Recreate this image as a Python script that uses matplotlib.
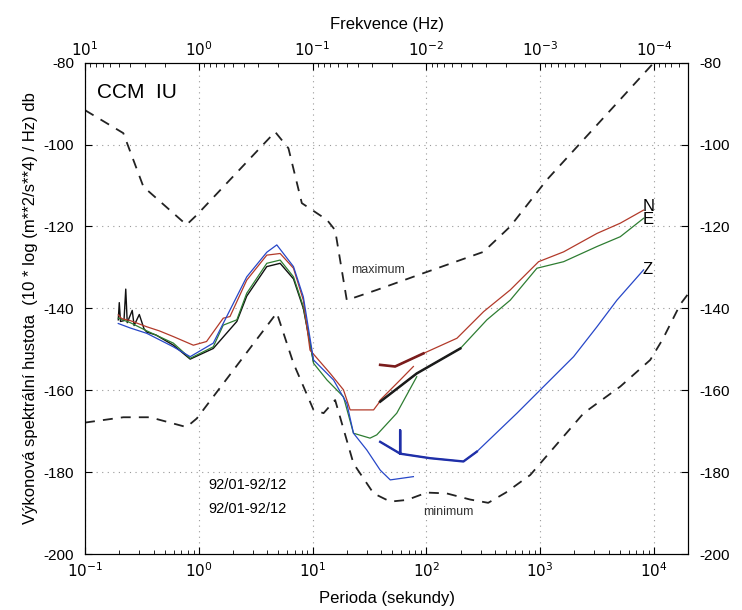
import numpy as np
import matplotlib
matplotlib.use("Agg")
import matplotlib.pyplot as plt
from matplotlib.ticker import LogLocator, FixedLocator, NullFormatter

plt.rcParams['font.family'] = ['Liberation Sans', 'DejaVu Sans']

# ---------------- data (period in s, PSD in dB) ----------------
max_T = [0.1, 0.217, 0.326, 0.78, 0.96, 4.69, 6.14, 8.05, 13.4, 15.8, 20.0, 36.7, 94.4, 318, 547, 1148, 1e4, 2e4]
max_db = [-91.6, -97.2, -110.3, -119.6, -117.2, -96.9, -100.9, -114.3, -118.4, -120.9, -138.0, -135.5, -131.4, -126.2, -120.0, -108.6, -80.0, -76.0]

min_T = [0.1, 0.217, 0.373, 0.78, 0.96, 4.85, 6.79, 10.2, 12.5, 15.8, 22.9, 34.4, 48.2, 67.5, 101, 151, 243, 350, 500, 820, 2416, 5070, 9300, 12000, 17100, 2e4]
min_db = [-167.9, -166.6, -166.6, -169.0, -166.9, -141.1, -153.4, -164.8, -165.6, -162.4, -177.9, -185.2, -187.2, -186.8, -185.0, -185.2, -186.7, -187.5, -185.0, -180.7, -165.6, -159.1, -152.6, -147.5, -139.0, -136.5]

# short-period traces
red_s_T = [0.196, 0.21, 0.25, 0.349, 0.45, 0.598, 0.896, 1.17, 1.64, 1.88, 2.64, 3.96, 5.19, 6.8, 8.3, 9.5, 14.3, 18.7, 21.4, 34.4, 38.0, 39.3, 58.9, 77.0]
red_s_db = [-141.6, -142.5, -143.0, -144.5, -145.5, -146.9, -149.0, -148.1, -142.4, -142.0, -133.1, -127.0, -126.6, -130.2, -138.0, -150.2, -155.9, -159.9, -164.8, -164.8, -163.2, -162.4, -157.5, -154.2]

grn_s_T = [0.196, 0.25, 0.349, 0.598, 0.84, 1.34, 1.64, 2.16, 2.64, 3.96, 5.19, 6.8, 8.3, 10.2, 13.4, 18.7, 22.9, 32.0, 36.7, 55.0, 82.4]
grn_s_db = [-142.4, -143.5, -145.5, -148.5, -152.2, -149.4, -144.1, -142.8, -136.3, -129.0, -128.2, -132.3, -139.6, -153.4, -157.5, -161.6, -170.5, -171.7, -170.9, -165.6, -156.7]

blu_s_T = [0.196, 0.25, 0.349, 0.598, 0.84, 1.34, 2.64, 3.96, 4.85, 6.8, 8.3, 10.2, 15.3, 20.0, 22.9, 30.0, 39.3, 48.2, 77.0]
blu_s_db = [-143.7, -144.8, -146.1, -149.4, -151.8, -148.5, -132.3, -126.3, -124.5, -129.8, -137.2, -152.6, -157.5, -163.2, -170.5, -174.6, -179.5, -181.9, -181.1]

blk_s_T = [0.196, 0.2, 0.205, 0.22, 0.228, 0.235, 0.26, 0.27, 0.3, 0.33, 0.349, 0.42, 0.598, 0.84, 1.34, 2.16, 2.64, 3.96, 5.19, 6.8, 8.3, 10.2]
blk_s_db = [-142.8, -138.6, -143.2, -143.0, -135.3, -143.5, -140.5, -144.2, -141.5, -145.0, -145.8, -146.5, -149.0, -152.4, -149.8, -143.2, -137.0, -129.8, -129.0, -132.8, -140.0, -153.0]

# long-period traces
N_T = [39.3, 53.2, 94.4, 186, 319, 547, 971, 1611, 3163, 5070, 8130]
N_db = [-153.8, -154.2, -151.0, -147.3, -140.8, -135.5, -128.6, -126.2, -121.7, -119.2, -116.0]

E_T = [39.3, 82.4, 199, 341, 547, 938, 1611, 3163, 5070, 8130]
E_db = [-162.8, -155.9, -149.8, -142.8, -138.0, -130.2, -128.6, -124.9, -122.5, -118.0]

Z_T = [39.3, 55.0, 58.9, 58.9, 58.9, 108, 212, 278, 627, 1075, 1972, 3163, 4740, 8130]
Z_db = [-172.6, -175.0, -175.5, -169.8, -175.5, -176.6, -177.4, -175.0, -165.6, -159.1, -151.8, -144.5, -138.0, -130.6]

y_ticks = [-200, -180, -160, -140, -120, -100, -80]
x_ticks = [1e-1, 1e0, 1e1, 1e2, 1e3, 1e4]
x_labels = ['$10^{-1}$', '$10^{0}$', '$10^{1}$', '$10^{2}$', '$10^{3}$', '$10^{4}$']
f_ticks = [1e1, 1e0, 1e-1, 1e-2, 1e-3, 1e-4]
f_labels = ['$10^{1}$', '$10^{0}$', '$10^{-1}$', '$10^{-2}$', '$10^{-3}$', '$10^{-4}$']

# ---------------- figure ----------------
fig = plt.figure(figsize=(7.42, 6.10), dpi=100)
ax = fig.add_axes([0.1146, 0.0918, 0.8127, 0.8054])
ax.set_xscale('log')
ax.set_xlim(0.1, 2e4)
ax.set_ylim(-200, -80)

grid_kw = dict(color='#999999', lw=0.8, linestyle=(0, (1, 4)))
for t in x_ticks:
    ax.axvline(t, **grid_kw, zorder=0)
for y in y_ticks[1:-1]:
    ax.axhline(y, **grid_kw, zorder=0)

dash_kw = dict(color='#222222', lw=1.3, dashes=(5.5, 4.5))
ax.plot(max_T, max_db, **dash_kw)
ax.plot(min_T, min_db, **dash_kw)

ax.plot(blk_s_T, blk_s_db, color='#111111', lw=1.0)
ax.plot(grn_s_T, grn_s_db, color='#2e7d32', lw=0.9)
ax.plot(red_s_T, red_s_db, color='#b23a2a', lw=0.9)
ax.plot(blu_s_T, blu_s_db, color='#2747c8', lw=0.9)

ax.plot(N_T, N_db, color='#b23a2a', lw=0.9)
ax.plot(N_T[:3], N_db[:3], color='#7a1c1c', lw=1.9)
ax.plot(E_T, E_db, color='#2e7d32', lw=0.9)
ax.plot(E_T[:3], E_db[:3], color='#1a1a1a', lw=1.8)
ax.plot(Z_T, Z_db, color='#2747c8', lw=0.9)
ax.plot(Z_T[:8], Z_db[:8], color='#1f2fa8', lw=1.7)

ax.set_yticks(y_ticks)
ax.set_yticklabels([str(v) for v in y_ticks])
ax.xaxis.set_major_locator(FixedLocator(x_ticks))
ax.set_xticklabels(x_labels)
ax.xaxis.set_minor_locator(LogLocator(base=10, subs=np.arange(2, 10)))
ax.xaxis.set_minor_formatter(NullFormatter())
ax.tick_params(axis='both', which='both', direction='in', labelsize=11, pad=5)
ax.tick_params(axis='x', which='major', length=5)
ax.tick_params(axis='x', which='minor', length=3)
ax.tick_params(axis='y', which='major', length=5, right=True, labelright=True, pad=8)

ax2 = ax.twiny()
ax2.set_xscale('log')
ax2.set_xlim(1 / 0.1, 1 / 2e4)
ax2.xaxis.set_major_locator(FixedLocator(f_ticks))
ax2.set_xticklabels(f_labels)
ax2.xaxis.set_minor_locator(LogLocator(base=10, subs=np.arange(2, 10)))
ax2.xaxis.set_minor_formatter(NullFormatter())
ax2.tick_params(axis='x', which='both', direction='in', labelsize=11, pad=3)
ax2.tick_params(axis='x', which='major', length=5)
ax2.tick_params(axis='x', which='minor', length=3)

ax.set_xlabel('Perioda (sekundy)', fontsize=12, labelpad=8)
ax2.set_xlabel('Frekvence (Hz)', fontsize=12, labelpad=8)
ax.set_ylabel('Výkonová spektrální hustota  (10 * log (m**2/s**4) / Hz) db', fontsize=12, labelpad=4)

ax.text(0.128, -87.3, 'CCM  IU', fontsize=15, ha='left', va='center')
ax.text(8000, -115.0, 'N', fontsize=12, ha='left', va='center')
ax.text(8000, -118.3, 'E', fontsize=12, ha='left', va='center')
ax.text(8000, -130.6, 'Z', fontsize=12, ha='left', va='center')
ax.text(21.8, -130.6, 'maximum', fontsize=9, ha='left', va='center', color='#333333')
ax.text(94, -189.7, 'minimum', fontsize=9, ha='left', va='center', color='#333333')
ax.text(1.21, -183.1, '92/01-92/12', fontsize=10.5, ha='left', va='center')
ax.text(1.21, -189.0, '92/01-92/12', fontsize=10.5, ha='left', va='center')

fig.savefig('out.png', dpi=100)
